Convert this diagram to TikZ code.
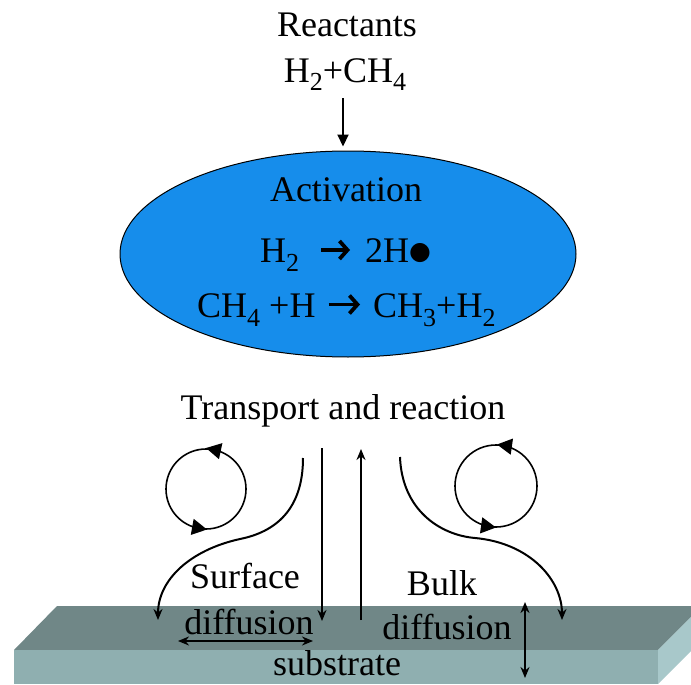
\documentclass[tikz,border=0pt]{standalone}
\usepackage{fontspec}
\setmainfont{Liberation Serif}
\newfontfamily\symfont{DejaVu Sans}
\usetikzlibrary{shapes.geometric,arrows.meta,calc}
\newcommand{\sbs}[1]{\raisebox{-9pt}{\fontsize{26}{26}\selectfont #1}}
\definecolor{ellblue}{RGB}{22,141,235}
\definecolor{slabtop}{RGB}{112,135,135}
\definecolor{slabfront}{RGB}{143,175,176}
\definecolor{slabside}{RGB}{168,200,202}
\begin{document}
\begin{tikzpicture}[x=1pt,y=-1pt,
  txt/.style={inner sep=0pt, font=\fontsize{36}{40}\selectfont},
  thinarrow/.style={line width=1.8pt, -{Stealth[length=11pt,width=9pt]}},
  dblarrow/.style={line width=1.8pt, {Stealth[length=11pt,width=9pt]}-{Stealth[length=11pt,width=9pt]}},
  curvearrow/.style={line width=2pt, -{Stealth[length=11pt,width=9pt]}},
  bigarrow/.style={line width=2.2pt, -{Triangle[length=12pt,width=11pt]}},
  chev/.style={line width=3.8pt, -{Straight Barb[length=8pt,width=18pt]}},
  circ/.style={line width=1.6pt},
  circtip/.style={line width=1.5pt, -{Triangle[length=15pt,width=16pt]}}]
\useasboundingbox (0,0) rectangle (691,685);
% substrate slab
\fill[slabtop] (57,606) -- (702,606) -- (658,650) -- (14,650) -- cycle;
\fill[slabfront] (14,650) -- (658,650) -- (658,684) -- (14,684) -- cycle;
\fill[slabside] (658,650) -- (702,606) -- (702,640) -- (658,684) -- cycle;
% reactants
\node[txt, anchor=base] (reac) at (347,37) {Reactants};
\node[txt, anchor=base] (feed) at (345,82) {H\sbs{2}+CH\sbs{4}};
% activation ellipse
\node[ellipse, draw=black, line width=1pt, fill=ellblue, minimum width=456, minimum height=206, inner sep=0pt] (ell) at (348,254) {};
\draw[bigarrow, shorten <=7pt, shorten >=4pt] ([xshift=-2pt]feed.south) -- ([xshift=-5pt]ell.north);
\node[txt, anchor=base] (act) at (346,201) {Activation};
\node[txt, anchor=base west] (h2) at (260,262) {H\sbs{2}};
\node[txt, anchor=base west] (twoh) at (365,262) {2H\raisebox{3pt}{\symfont\fontsize{25}{25}\selectfont ●}};
\node[txt, anchor=base west] (ch4) at (197,317) {CH\sbs{4} +H};
\node[txt, anchor=base west] (ch3) at (373,317) {CH\sbs{3}+H\sbs{2}};
\draw[chev] ([xshift=22pt,yshift=12pt]h2.base east) -- ([xshift=-15pt,yshift=12pt]twoh.base west);
\draw[chev] ([xshift=13pt,yshift=12.5pt]ch4.base east) -- ([xshift=-13pt,yshift=12.5pt]ch3.base west);
% transport
\node[txt, anchor=base] (trans) at (343,419) {Transport and reaction};
% coordinates
\coordinate (dtop) at (322,448);
\coordinate (dbot) at (322,621);
\coordinate (ubot) at (361,620);
\coordinate (utop) at (361,449);
\coordinate (lc0) at (303,458);
\coordinate (lc1) at (158,620);
\coordinate (rc0) at (400,457);
\coordinate (rc1) at (562,620);
\coordinate (hl) at (178,641);
\coordinate (hr) at (313,641);
\coordinate (vt) at (525,602);
\coordinate (vb) at (525,678);
% vertical arrows
\draw[thinarrow] (dtop) -- (dbot);
\draw[thinarrow] (ubot) -- (utop);
% S-curves
\draw[curvearrow] (lc0) .. controls (303,510) and (275,532) .. (240,539) .. controls (190,550) and (158,580) .. (lc1);
\draw[curvearrow] (rc0) .. controls (402,510) and (440,535) .. (475,538) .. controls (530,543) and (562,580) .. (rc1);
% circles
\draw[circ] (206,489) circle[radius=40];
\draw[circtip] (220,451) -- (206,448);
\draw[circtip] (193,527) -- (207,529.5);
\draw[circ] (496,486) circle[radius=41];
\draw[circtip] (511,446.5) -- (497,444.5);
\draw[circtip] (482,525.5) -- (496,527.5);
% labels
\node[txt, anchor=base] (surf) at (245,588) {Surface};
\node[txt, anchor=base] (sdiff) at (249,634) {diffusion};
\node[txt, anchor=base] (bulk) at (442,595) {Bulk};
\node[txt, anchor=base] (bdiff) at (447,639) {diffusion};
\node[txt, anchor=base] (subs) at (337,675) {substrate};
\draw[dblarrow] (hl) -- (hr);
\draw[dblarrow] (vt) -- (vb);
\end{tikzpicture}
\end{document}
